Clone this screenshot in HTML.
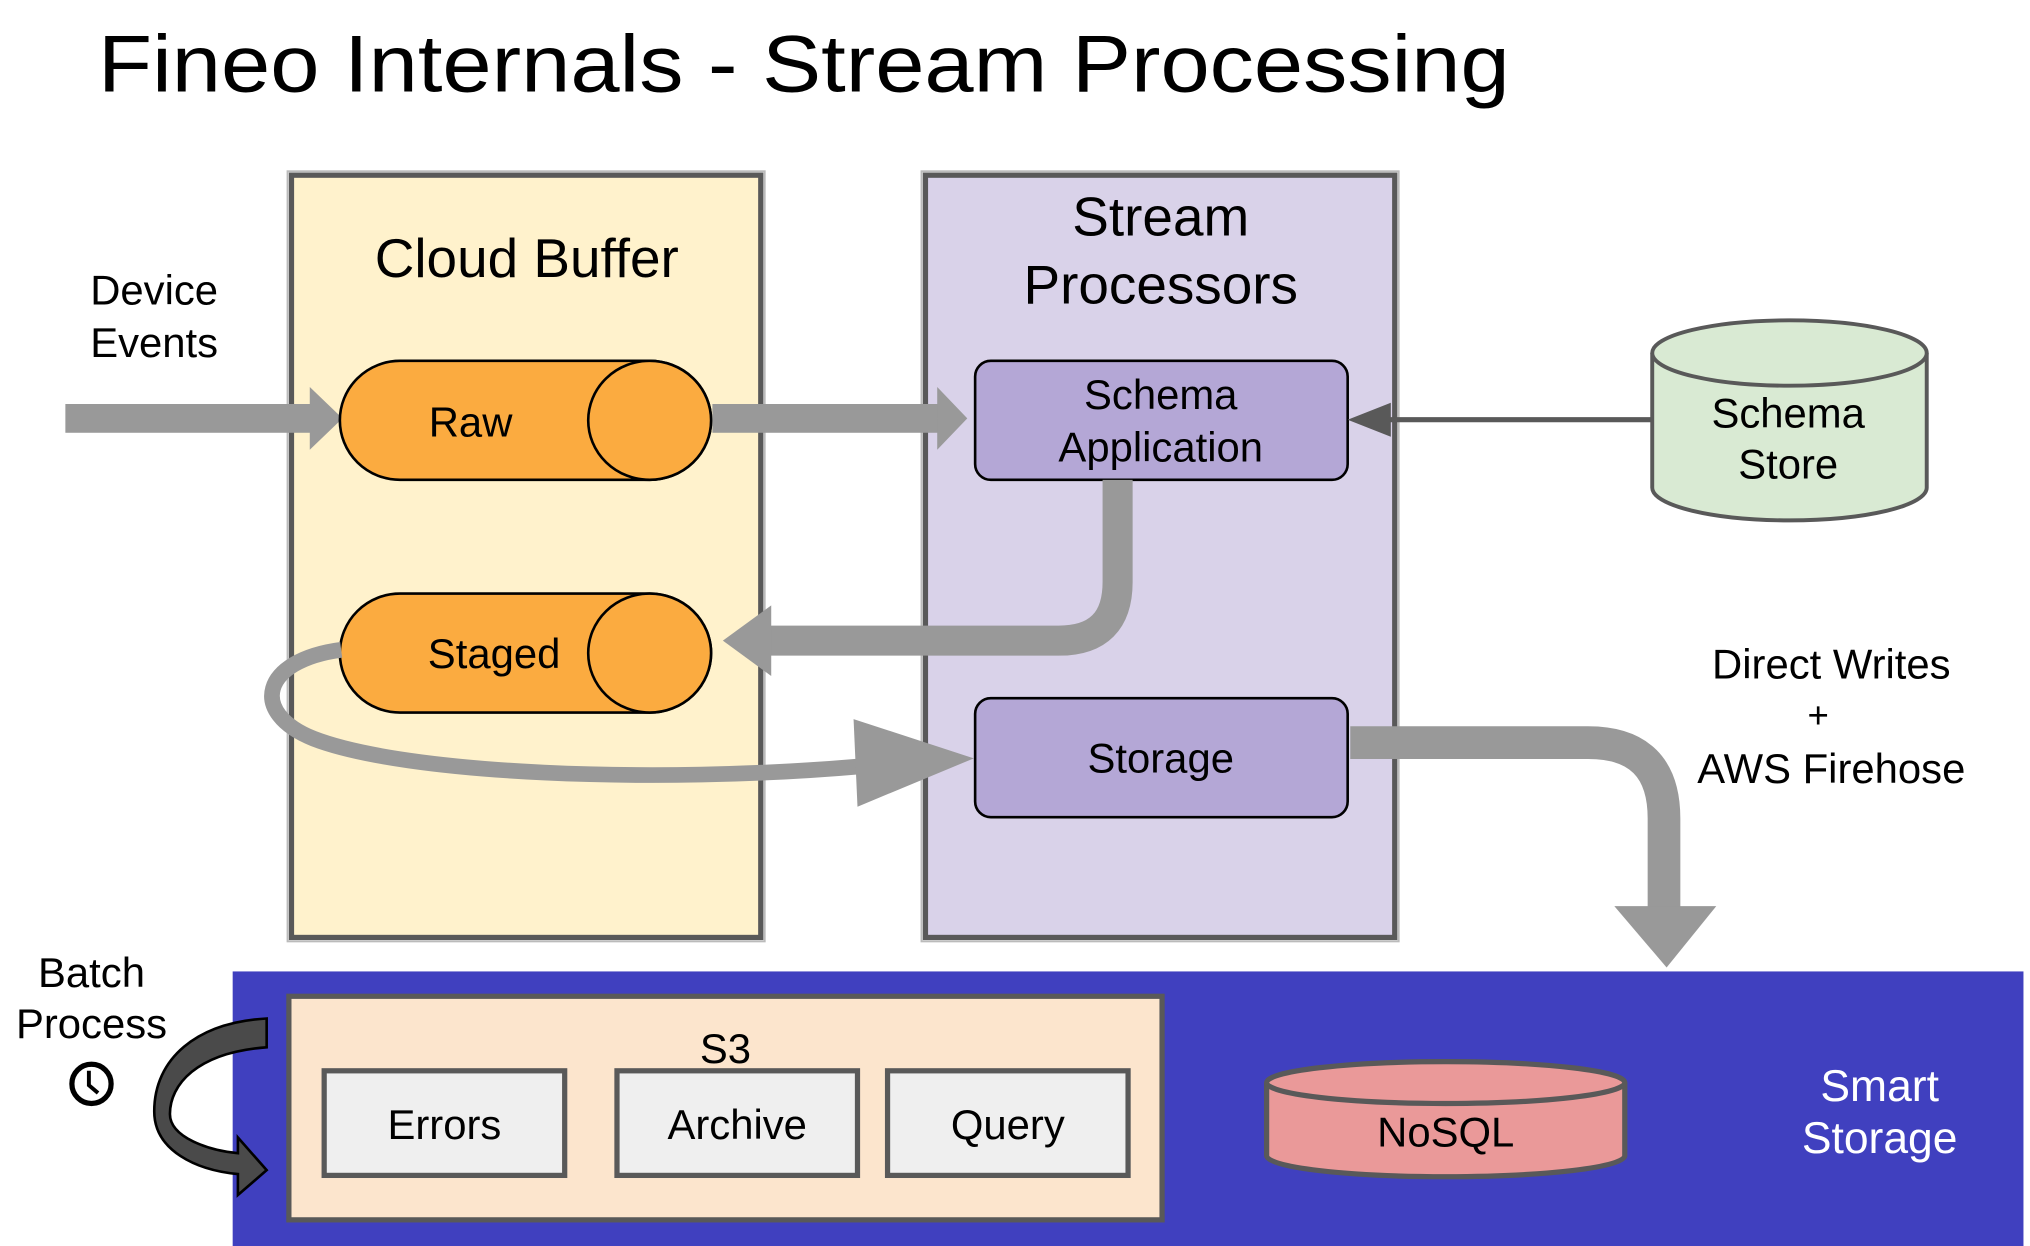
<!DOCTYPE html>
<html><head><meta charset="utf-8"><style>
html,body{margin:0;padding:0;background:#fff;}
svg{display:block;}
text{font-family:"Liberation Sans",Arial,sans-serif;}
</style></head><body>
<svg width="2030" height="1246" viewBox="0 0 1553 953" preserveAspectRatio="none" xmlns="http://www.w3.org/2000/svg">
<rect width="1553" height="953" fill="#fff"/>
<text x="75" y="70" font-size="62" fill="#000" textLength="1080" lengthAdjust="spacingAndGlyphs">Fineo Internals - Stream Processing</text>

<!-- Cloud Buffer -->
<rect x="220" y="131" width="365" height="589" fill="none" stroke="#bbb" stroke-width="1.5"/>
<rect x="223" y="134" width="359" height="583" fill="#fff2cc" stroke="#595959" stroke-width="4"/>
<text x="403" y="212" font-size="42" text-anchor="middle">Cloud Buffer</text>

<!-- Stream Processors -->
<rect x="705" y="131" width="365" height="589" fill="none" stroke="#bbb" stroke-width="1.5"/>
<rect x="708" y="134" width="359" height="583" fill="#d9d2e9" stroke="#595959" stroke-width="4"/>
<text x="888" y="180" font-size="42" text-anchor="middle">Stream</text>
<text x="888" y="232" font-size="42" text-anchor="middle">Processors</text>

<text x="69" y="233" font-size="32">Device</text>
<text x="69" y="273" font-size="32">Events</text>

<!-- input arrow -->
<rect x="50" y="309" width="190" height="22" fill="#999"/>
<polygon points="237,296 262,320 237,344" fill="#999"/>

<!-- Raw cylinder -->
<path d="M306,276 H497 A47,45.5 0 0 1 497,367 H306 A46,45.5 0 0 1 306,276 Z" fill="#fbab40" stroke="#000" stroke-width="2"/>
<ellipse cx="497" cy="321.5" rx="47" ry="45.5" fill="#fbab40" stroke="#000" stroke-width="2"/>
<text x="360" y="334" font-size="32" text-anchor="middle">Raw</text>

<!-- Raw -> Schema arrow -->
<rect x="545" y="309" width="175" height="22" fill="#999"/>
<polygon points="717,296 740,320 717,344" fill="#999"/>

<!-- Schema Application -->
<rect x="746" y="276" width="285" height="91" rx="12" fill="#b4a7d6" stroke="#000" stroke-width="2"/>
<text x="888" y="313" font-size="32" text-anchor="middle">Schema</text>
<text x="888" y="353" font-size="32" text-anchor="middle">Application</text>

<!-- Schema Store -->
<path d="M1264,270 V373 A105,25 0 0 0 1474,373 V270" fill="#d9ead3" stroke="#595959" stroke-width="3"/>
<ellipse cx="1369" cy="270" rx="105" ry="25" fill="#d9ead3" stroke="#595959" stroke-width="3"/>
<text x="1368" y="327" font-size="32" text-anchor="middle">Schema</text>
<text x="1368" y="366" font-size="32" text-anchor="middle">Store</text>
<line x1="1263" y1="321" x2="1058" y2="321" stroke="#595959" stroke-width="4"/>
<polygon points="1031,321 1064,308 1064,334" fill="#595959"/>

<!-- Schema -> Staged arrow -->
<path d="M855,367 V445 Q855,490 810,490 H588" fill="none" stroke="#999" stroke-width="23"/>
<polygon points="553,490 590,463 590,517" fill="#999"/>

<!-- Staged cylinder -->
<path d="M306,454 H497 A47,45.5 0 0 1 497,545 H306 A46,45.5 0 0 1 306,454 Z" fill="#fbab40" stroke="#000" stroke-width="2"/>
<ellipse cx="497" cy="499.5" rx="47" ry="45.5" fill="#fbab40" stroke="#000" stroke-width="2"/>
<text x="378" y="511" font-size="32" text-anchor="middle">Staged</text>

<!-- loop arrow -->
<path d="M261,497 C200,505 190,545 240,565 C310,592 500,600 660,586" fill="none" stroke="#999" stroke-width="12"/>
<polygon points="653,550 745,580 656,617" fill="#999"/>

<!-- Storage -->
<rect x="746" y="534" width="285" height="91" rx="12" fill="#b4a7d6" stroke="#000" stroke-width="2"/>
<text x="888" y="591" font-size="32" text-anchor="middle">Storage</text>

<!-- Storage -> Smart storage -->
<path d="M1033,568 H1215 Q1273,568 1273,626 V697" fill="none" stroke="#999" stroke-width="25"/>
<polygon points="1235,693 1313,693 1275,740" fill="#999"/>

<text x="1401" y="519" font-size="32" text-anchor="middle">Direct Writes</text>
<text x="1391" y="557" font-size="28" text-anchor="middle">+</text>
<text x="1401" y="599" font-size="32" text-anchor="middle">AWS Firehose</text>

<!-- Smart Storage -->
<rect x="178" y="743" width="1370" height="210" fill="#4040bf"/>
<text x="1438" y="842" font-size="34" text-anchor="middle" fill="#fff">Smart</text>
<text x="1438" y="882" font-size="34" text-anchor="middle" fill="#fff">Storage</text>

<!-- S3 -->
<rect x="221" y="762" width="668" height="171" fill="#fce5cd" stroke="#595959" stroke-width="4"/>
<text x="555" y="813" font-size="32" text-anchor="middle">S3</text>
<rect x="248" y="819" width="184" height="80" fill="#efefef" stroke="#595959" stroke-width="4"/>
<rect x="472" y="819" width="184" height="80" fill="#efefef" stroke="#595959" stroke-width="4"/>
<rect x="679" y="819" width="184" height="80" fill="#efefef" stroke="#595959" stroke-width="4"/>
<text x="340" y="871" font-size="32" text-anchor="middle">Errors</text>
<text x="564" y="871" font-size="32" text-anchor="middle">Archive</text>
<text x="771" y="871" font-size="32" text-anchor="middle">Query</text>

<!-- NoSQL -->
<path d="M969,828 V884 A137,16 0 0 0 1243,884 V828" fill="#ea9999" stroke="#595959" stroke-width="4"/>
<ellipse cx="1106" cy="828" rx="137" ry="16" fill="#ea9999" stroke="#595959" stroke-width="4"/>
<text x="1106" y="877" font-size="32" text-anchor="middle">NoSQL</text>

<!-- Batch Process -->
<text x="70" y="755" font-size="32" text-anchor="middle">Batch</text>
<text x="70" y="794" font-size="32" text-anchor="middle">Process</text>
<circle cx="70" cy="829" r="15" fill="#fff" stroke="#000" stroke-width="4"/>
<path d="M68,819 V830 L75,836" fill="none" stroke="#000" stroke-width="3"/>
<path d="M204,779 V801 C150,805 130,830 130,852 C130,870 160,880 182,882 L182,870 L204,895 L182,914 L182,898 C150,895 118,880 118,850 C118,810 150,782 204,779 Z" fill="#4a4a4a" stroke="#000" stroke-width="2"/>
</svg>
</body></html>
